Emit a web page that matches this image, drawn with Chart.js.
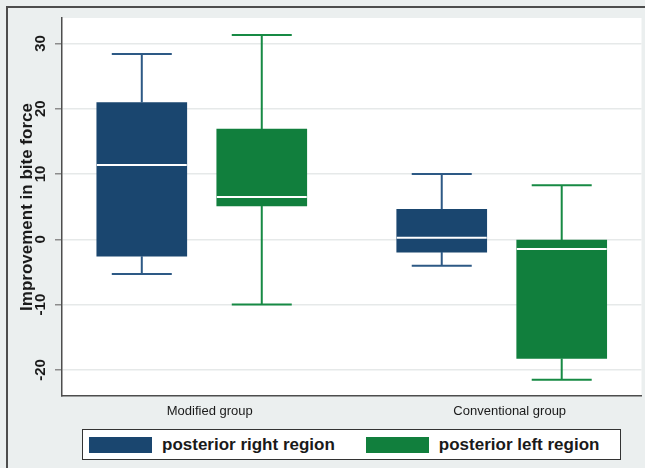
<!DOCTYPE html>
<html>
<head>
<meta charset="utf-8">
<script src="https://cdn.jsdelivr.net/npm/chart.js@4.4.1/dist/chart.umd.min.js"></script>
<style>
  html, body { margin: 0; padding: 0; }
  body {
    width: 645px; height: 468px; position: relative; overflow: hidden;
    background: #ebefef; font-family: "Liberation Sans", Arial, sans-serif;
  }
  .frame {
    position: absolute; left: 6px; top: 6px; right: -10px; bottom: -10px;
    border-top: 2px solid #4d4d4d; border-left: 2px solid #4d4d4d;
  }
  #chart { position: absolute; left: 0; top: 0; }
  .legend {
    position: absolute; left: 82px; top: 429px; width: 531px; height: 29px;
    border: 1.5px solid #333; background: #fff;
    display: flex; align-items: center; padding-left: 6px; box-sizing: content-box;
  }
  .legend-item { display: flex; align-items: center; margin-right: 31px; flex-shrink: 0; white-space: nowrap; }
  .legend-swatch { width: 63px; height: 16px; margin-right: 10px; flex-shrink: 0; }
  .legend-text { font: bold 17px "Liberation Sans", Arial, sans-serif; color: #1a1a1a; }
</style>
</head>
<body>
<div class="frame"></div>
<canvas id="chart" width="645" height="468"></canvas>
<div class="legend" id="legend"></div>

<script>
// Data
const groups = ["Modified group", "Conventional group"];
const regions = ["posterior right region", "posterior left region"];

const rightMin    = [-5.3, -4.05];
const rightQ1     = [-2.6, -1.95];
const rightMedian = [11.4, 0.25];
const rightQ3     = [20.95, 4.6];
const rightMax    = [28.4, 10.0];

const leftMin    = [-10.0, -21.5];
const leftQ1     = [5.1, -18.25];
const leftMedian = [6.5, -1.5];
const leftQ3     = [16.9, -0.1];
const leftMax    = [31.3, 8.3];

const yTicks = [-20, -10, 0, 10, 20, 30];

// Styles
const BLUE = "#1a466f";
const GREEN = "#117f3d";
const boxShift = 0.2;

function boxData(q1, q3, shift) {
  return groups.map((g, i) => ({ x: i + shift, y: [q1[i], q3[i]] }));
}

const datasets = [
  {
    label: regions[0],
    data: boxData(rightQ1, rightQ3, -boxShift),
    lows: rightMin, medians: rightMedian, highs: rightMax, q1: rightQ1, q3: rightQ3,
    backgroundColor: BLUE,
    whiskerColor: "#2d5985",
  },
  {
    label: regions[1],
    data: boxData(leftQ1, leftQ3, boxShift),
    lows: leftMin, medians: leftMedian, highs: leftMax, q1: leftQ1, q3: leftQ3,
    backgroundColor: GREEN,
    whiskerColor: "#178a44",
  },
];

// White plot region
const plotBackground = {
  id: "plotBackground",
  beforeDraw(chart) {
    const { ctx, chartArea: a } = chart;
    ctx.save();
    ctx.fillStyle = "#ffffff";
    ctx.fillRect(a.left, a.top, a.right - a.left, a.bottom - a.top);
    ctx.restore();
  },
};

// Whiskers and medians on top of the floating bars
const whiskers = {
  id: "whiskers",
  afterDatasetsDraw(chart) {
    const { ctx, scales: { y } } = chart;
    chart.data.datasets.forEach((ds, di) => {
      const meta = chart.getDatasetMeta(di);
      meta.data.forEach((bar, i) => {
        const x = bar.x;
        const half = bar.width / 2;
        const cap = bar.width / 3;
        const yHigh = y.getPixelForValue(ds.highs[i]);
        const yLow = y.getPixelForValue(ds.lows[i]);
        const yQ3 = y.getPixelForValue(ds.q3[i]);
        const yQ1 = y.getPixelForValue(ds.q1[i]);
        const yMed = y.getPixelForValue(ds.medians[i]);

        ctx.save();
        ctx.strokeStyle = ds.whiskerColor;
        ctx.lineWidth = 2;
        ctx.beginPath();
        ctx.moveTo(x, yQ3); ctx.lineTo(x, yHigh);
        ctx.moveTo(x - cap, yHigh); ctx.lineTo(x + cap, yHigh);
        ctx.moveTo(x, yQ1); ctx.lineTo(x, yLow);
        ctx.moveTo(x - cap, yLow); ctx.lineTo(x + cap, yLow);
        ctx.stroke();

        ctx.strokeStyle = "#ffffff";
        ctx.lineWidth = 2;
        ctx.beginPath();
        ctx.moveTo(x - half, yMed); ctx.lineTo(x + half, yMed);
        ctx.stroke();
        ctx.restore();
      });
    });
  },
};

const chart = new Chart(document.getElementById("chart").getContext("2d"), {
  type: "bar",
  data: { datasets },
  plugins: [plotBackground, whiskers],
  options: {
    responsive: false,
    devicePixelRatio: 1,
    animation: false,
    layout: { padding: { top: 18, right: 3.5, bottom: 40, left: 0 } },
    datasets: { bar: { grouped: false, barThickness: 90, borderWidth: 0 } },
    plugins: { legend: { display: false }, tooltip: { enabled: false } },
    scales: {
      x: {
        type: "linear",
        offset: false,
        min: -0.466,
        max: 1.466,
        afterBuildTicks: (s) => { s.ticks = groups.map((g, i) => ({ value: i })); },
        afterFit: (s) => { s.height = 32; },
        grid: { display: false, drawTicks: false, offset: false },
        border: { color: "#4d4d4d", width: 1.5 },
        ticks: {
          callback: (v, i) => groups[i],
          labelOffset: 8,
          padding: 8,
          color: "#1a1a1a",
          font: { family: "Liberation Sans", size: 13 },
        },
      },
      y: {
        min: -24.0,
        max: 33.9,
        afterBuildTicks: (s) => { s.ticks = yTicks.map((v) => ({ value: v })); },
        afterFit: (s) => { s.width = 62; },
        grid: { color: "#e6e9e9", lineWidth: 1.5, tickLength: 7, tickColor: "#8c8c8c", tickWidth: 1.5 },
        border: { color: "#4d4d4d", width: 1.5 },
        ticks: {
          minRotation: 90,
          maxRotation: 90,
          crossAlign: "center",
          padding: 3,
          color: "#1a1a1a",
          font: { family: "Liberation Sans", size: 15, weight: "bold" },
        },
        title: {
          display: true,
          text: "Improvement in bite force",
          color: "#1a1a1a",
          padding: { top: 17, bottom: 0 },
          font: { family: "Liberation Sans", size: 17, weight: "bold" },
        },
      },
    },
  },
});

// Legend built from the datasets
const legendEl = document.getElementById("legend");
chart.data.datasets.forEach((ds) => {
  const item = document.createElement("div");
  item.className = "legend-item";
  item.innerHTML = `<span class="legend-swatch" style="background:${ds.backgroundColor}"></span>` +
    `<span class="legend-text">${ds.label}</span>`;
  legendEl.appendChild(item);
});
</script>
</body>
</html>
